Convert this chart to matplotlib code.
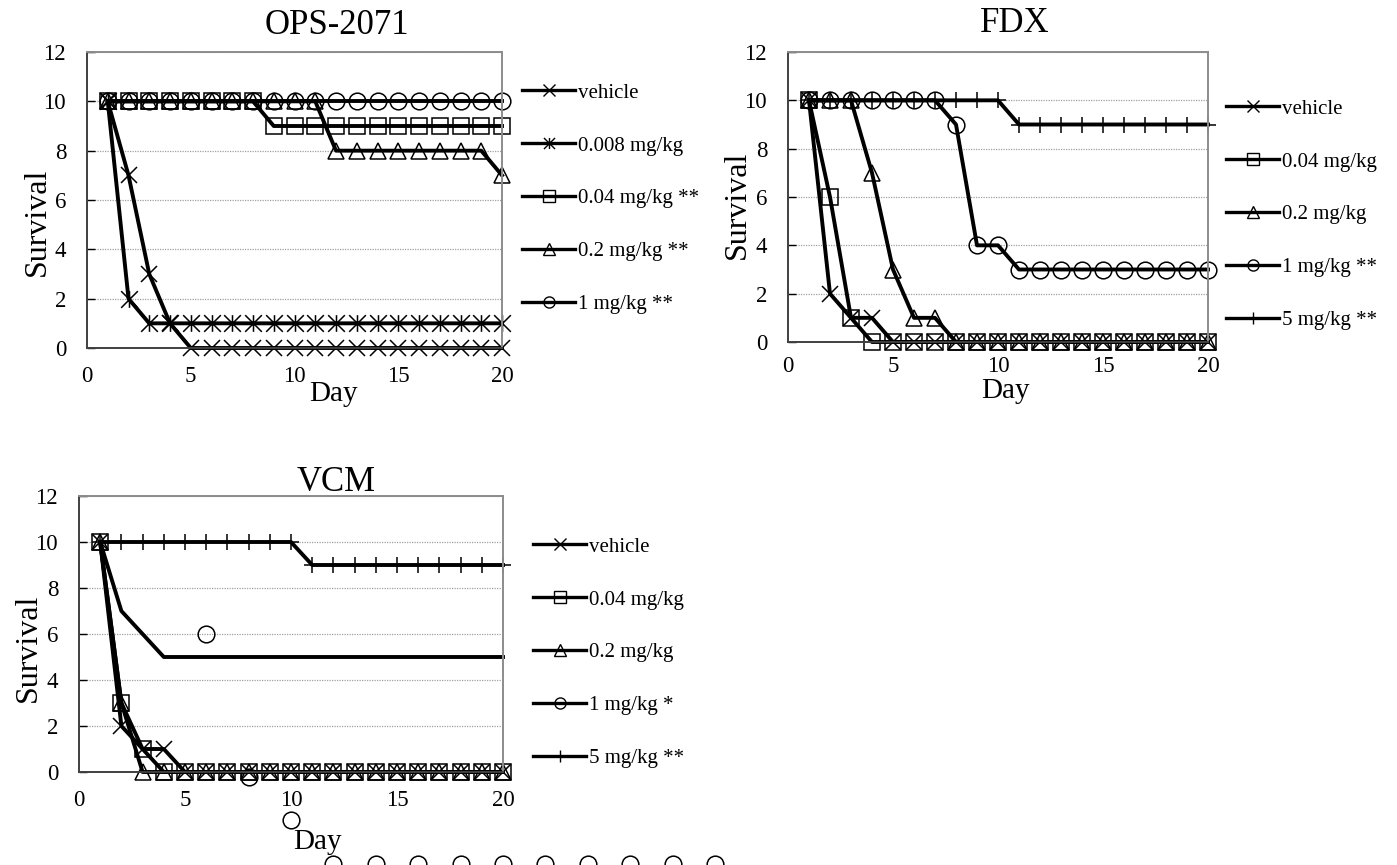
import matplotlib
matplotlib.use('Agg')
import matplotlib.pyplot as plt
from matplotlib.lines import Line2D
from matplotlib.path import Path

W, H = 1397, 865
plt.rcParams['font.family'] = ['Liberation Serif', 'DejaVu Serif']

days = [1, 2, 3, 4, 5, 6, 7, 8, 9, 10, 11, 12, 13, 14, 15, 16, 17, 18, 19, 20]
x_ticks = [0, 5, 10, 15, 20]
y_ticks = [0, 2, 4, 6, 8, 10, 12]

# OPS-2071
ops_labels = ['vehicle', '0.008 mg/kg', '0.04 mg/kg **', '0.2 mg/kg **', '1 mg/kg **']
ops_vehicle = [10, 7, 3, 1, 0, 0, 0, 0, 0, 0, 0, 0, 0, 0, 0, 0, 0, 0, 0, 0]
ops_008 = [10, 2, 1, 1, 1, 1, 1, 1, 1, 1, 1, 1, 1, 1, 1, 1, 1, 1, 1, 1]
ops_004 = [10, 10, 10, 10, 10, 10, 10, 10, 9, 9, 9, 9, 9, 9, 9, 9, 9, 9, 9, 9]
ops_02 = [10, 10, 10, 10, 10, 10, 10, 10, 10, 10, 10, 8, 8, 8, 8, 8, 8, 8, 8, 7]
ops_1 = [10, 10, 10, 10, 10, 10, 10, 10, 10, 10, 10, 10, 10, 10, 10, 10, 10, 10, 10, 10]

# FDX
fdx_labels = ['vehicle', '0.04 mg/kg', '0.2 mg/kg', '1 mg/kg **', '5 mg/kg **']
fdx_vehicle = [10, 2, 1, 1, 0, 0, 0, 0, 0, 0, 0, 0, 0, 0, 0, 0, 0, 0, 0, 0]
fdx_004 = [10, 6, 1, 0, 0, 0, 0, 0, 0, 0, 0, 0, 0, 0, 0, 0, 0, 0, 0, 0]
fdx_02 = [10, 10, 10, 7, 3, 1, 1, 0, 0, 0, 0, 0, 0, 0, 0, 0, 0, 0, 0, 0]
fdx_1 = [10, 10, 10, 10, 10, 10, 10, 9, 4, 4, 3, 3, 3, 3, 3, 3, 3, 3, 3, 3]
fdx_5 = [10, 10, 10, 10, 10, 10, 10, 10, 10, 10, 9, 9, 9, 9, 9, 9, 9, 9, 9, 9]

# VCM
vcm_labels = ['vehicle', '0.04 mg/kg', '0.2 mg/kg', '1 mg/kg *', '5 mg/kg **']
vcm_vehicle = [10, 2, 1, 1, 0, 0, 0, 0, 0, 0, 0, 0, 0, 0, 0, 0, 0, 0, 0, 0]
vcm_004 = [10, 3, 1, 0, 0, 0, 0, 0, 0, 0, 0, 0, 0, 0, 0, 0, 0, 0, 0, 0]
vcm_02 = [10, 3, 0, 0, 0, 0, 0, 0, 0, 0, 0, 0, 0, 0, 0, 0, 0, 0, 0, 0]
vcm_1 = [10, 7, 6, 5, 5, 5, 5, 5, 5, 5, 5, 5, 5, 5, 5, 5, 5, 5, 5, 5]
vcm_5 = [10, 10, 10, 10, 10, 10, 10, 10, 10, 10, 9, 9, 9, 9, 9, 9, 9, 9, 9, 9]
# the circle markers of the 1 mg/kg series sit away from their line in the original
vcm_1_mark_x = [6, 8, 10, 12, 14, 16, 18, 20, 22, 24, 26, 28, 30]
vcm_1_mark_y = [6, -0.2, -2.1, -4.0, -4.0, -4.0, -4.0, -4.0, -4.0, -4.0, -4.0, -4.0, -4.0]

asterisk = Path([(0, -1), (0, 1), (-1, -1), (1, 1), (-1, 1), (1, -1)],
                [Path.MOVETO, Path.LINETO, Path.MOVETO, Path.LINETO, Path.MOVETO, Path.LINETO])
mk = {'vehicle': 'x', '0.008': asterisk, '0.04': 's', '0.2': '^', '1': 'o', '5': '+'}


def fx(x):
    return x / W


def fy(y):
    return 1 - y / H


def series(ax, y, m, ms=12):
    ax.plot(days, y, color='black', lw=2.8, marker=m, ms=ms, mfc='none',
            mec='black', mew=1.1, clip_on=False)


def style(ax, xpad=13):
    ax.set_xlim(0, 20)
    ax.set_ylim(0, 12)
    ax.set_xticks(x_ticks)
    ax.set_yticks(y_ticks)
    ax.yaxis.grid(True, color='#a0a0a0', lw=0.9, ls=(0, (1, 1)))
    ax.set_axisbelow(True)
    ax.tick_params(axis='y', direction='in', length=6, width=1, pad=15, labelsize=16.5)
    ax.tick_params(axis='x', length=0, pad=xpad, labelsize=16.5)
    for s in ['left', 'bottom']:
        ax.spines[s].set_color('#404040')
        ax.spines[s].set_linewidth(1.4)
    for s in ['top', 'right']:
        ax.spines[s].set_color('#8c8c8c')
        ax.spines[s].set_linewidth(1.4)


def legend(ax, labels, markers, x0, y0):
    handles = [Line2D([], [], color='black', lw=2.4, marker=m, ms=8, mfc='none',
                      mec='black', mew=1.0) for m in markers]
    ax.legend(handles, labels, loc='upper left', bbox_to_anchor=(fx(x0), fy(y0)),
              bbox_transform=fig.transFigure, frameon=False, borderpad=0,
              borderaxespad=0, fontsize=15, labelspacing=1.6, handlelength=2.55,
              handletextpad=0.15, numpoints=1)


fig = plt.figure(figsize=(W / 100, H / 100), dpi=100)

# OPS-2071 panel
ax1 = fig.add_axes([fx(87), fy(348), fx(502 - 87), (348 - 52) / H])
series(ax1, ops_vehicle, mk['vehicle'])
series(ax1, ops_008, mk['0.008'])
series(ax1, ops_004, mk['0.04'])
series(ax1, ops_02, mk['0.2'])
series(ax1, ops_1, mk['1'])
style(ax1)
legend(ax1, ops_labels, [mk['vehicle'], mk['0.008'], mk['0.04'], mk['0.2'], mk['1']], 522, 83)
fig.text(fx(337), fy(26), 'OPS-2071', fontsize=25, ha='center', va='center')
fig.text(fx(37), fy(222), 'Survival', fontsize=23, ha='center', va='center', rotation=90)
fig.text(fx(333), fy(394), 'Day', fontsize=21, ha='center', va='center')

# FDX panel
ax2 = fig.add_axes([fx(788), fy(342), fx(1208 - 788), (342 - 52) / H])
series(ax2, fdx_vehicle, mk['vehicle'])
series(ax2, fdx_004, mk['0.04'])
series(ax2, fdx_02, mk['0.2'])
series(ax2, fdx_1, mk['1'])
series(ax2, fdx_5, mk['5'])
style(ax2, xpad=10)
legend(ax2, fdx_labels, [mk['vehicle'], mk['0.04'], mk['0.2'], mk['1'], mk['5']], 1226, 99)
fig.text(fx(1015), fy(24), 'FDX', fontsize=25, ha='center', va='center')
fig.text(fx(737), fy(205), 'Survival', fontsize=23, ha='center', va='center', rotation=90)
fig.text(fx(1005), fy(391), 'Day', fontsize=21, ha='center', va='center')

# VCM panel
ax3 = fig.add_axes([fx(79), fy(772), fx(503 - 79), (772 - 496) / H])
series(ax3, vcm_vehicle, mk['vehicle'])
series(ax3, vcm_004, mk['0.04'])
series(ax3, vcm_02, mk['0.2'])
series(ax3, vcm_1, None)
ax3.plot(vcm_1_mark_x, vcm_1_mark_y, ls='none', marker='o', ms=12, mfc='none',
         mec='black', mew=1.1, clip_on=False)
series(ax3, vcm_5, mk['5'])
style(ax3)
legend(ax3, vcm_labels, [mk['vehicle'], mk['0.04'], mk['0.2'], mk['1'], mk['5']], 533, 537)
fig.text(fx(336), fy(482), 'VCM', fontsize=25, ha='center', va='center')
fig.text(fx(28), fy(648), 'Survival', fontsize=23, ha='center', va='center', rotation=90)
fig.text(fx(318), fy(842), 'Day', fontsize=21, ha='center', va='center')

fig.savefig('out.png', dpi=100)
